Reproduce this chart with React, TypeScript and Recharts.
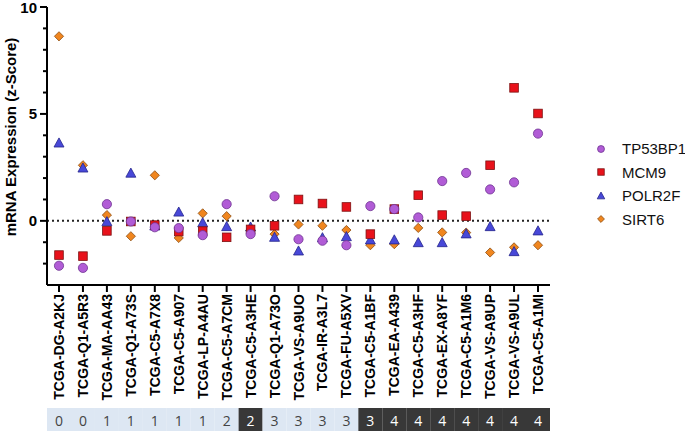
import React from 'react';
import { ComposedChart, Scatter, XAxis, YAxis, ReferenceLine } from 'recharts';

const samples = [
  'TCGA-DG-A2KJ', 'TCGA-Q1-A5R3', 'TCGA-MA-AA43', 'TCGA-Q1-A73S', 'TCGA-C5-A7X8',
  'TCGA-C5-A907', 'TCGA-LP-A4AU', 'TCGA-C5-A7CM', 'TCGA-C5-A3HE', 'TCGA-Q1-A73O',
  'TCGA-VS-A9UO', 'TCGA-IR-A3L7', 'TCGA-FU-A5XV', 'TCGA-C5-A1BF', 'TCGA-EA-A439',
  'TCGA-C5-A3HF', 'TCGA-EX-A8YF', 'TCGA-C5-A1M6', 'TCGA-VS-A9UP', 'TCGA-VS-A9UL',
  'TCGA-C5-A1MI',
];

// number shown in the strip under each sample, and which cells are dark
const stage = [0, 0, 1, 1, 1, 1, 1, 2, 2, 3, 3, 3, 3, 3, 4, 4, 4, 4, 4, 4, 4];
const darkCells = [8, 13, 14, 15, 16, 17, 18, 19, 20];

const tp53bp1 = [-2.1, -2.2, 0.78, -0.03, -0.3, -0.34, -0.67, 0.78, -0.62, 1.15, -0.86, -0.93, -1.14, 0.69, 0.55, 0.16, 1.86, 2.24, 1.47, 1.8, 4.08];
const mcm9 = [-1.6, -1.65, -0.47, -0.03, -0.2, -0.5, -0.48, -0.77, -0.4, -0.23, 1.0, 0.81, 0.65, -0.62, 0.55, 1.2, 0.27, 0.22, 2.6, 6.22, 5.02];
const polr2f = [3.63, 2.46, -0.05, 2.22, -0.25, 0.4, -0.1, -0.28, -0.3, -0.78, -1.42, -0.8, -0.75, -0.9, -0.9, -1.03, -1.03, -0.62, -0.28, -1.45, -0.48];
const sirt6 = [8.63, 2.6, 0.27, -0.72, 2.13, -0.8, 0.35, 0.22, -0.45, -0.62, -0.17, -0.23, -0.43, -1.14, -1.09, -0.33, -0.54, -0.55, -1.48, -1.24, -1.14];

const yTicks = [-3, -2, -1, 0, 1, 2, 3, 4, 5, 6, 7, 8, 9, 10];

const data = samples.map((name, i) => ({
  name,
  tp53bp1: tp53bp1[i],
  mcm9: mcm9[i],
  polr2f: polr2f[i],
  sirt6: sirt6[i],
}));

const FONT = '"Liberation Sans", Arial, sans-serif';

const COLORS = {
  tp53bp1: { fill: '#B15CD6', stroke: '#6e3392' },
  mcm9: { fill: '#E8121B', stroke: '#7d1212' },
  polr2f: { fill: '#4848D8', stroke: '#25258c' },
  sirt6: { fill: '#F0861F', stroke: '#8c4c12' },
};

function marker(kind: string, cx: number, cy: number, s = 1) {
  const c = (COLORS as any)[kind];
  if (kind === 'tp53bp1') {
    return <circle cx={cx} cy={cy} r={4.6 * s} fill={c.fill} stroke={c.stroke} strokeWidth={0.8} />;
  }
  if (kind === 'mcm9') {
    const h = 4.3 * s;
    return <rect x={cx - h} y={cy - h} width={2 * h} height={2 * h} fill={c.fill} stroke={c.stroke} strokeWidth={0.8} />;
  }
  if (kind === 'polr2f') {
    const pts = `${cx},${cy - 5.3 * s} ${cx - 5 * s},${cy + 3.8 * s} ${cx + 5 * s},${cy + 3.8 * s}`;
    return <polygon points={pts} fill={c.fill} stroke={c.stroke} strokeWidth={0.8} />;
  }
  const d = 4.6 * s;
  const pts = `${cx},${cy - d} ${cx + d},${cy} ${cx},${cy + d} ${cx - d},${cy}`;
  return <polygon points={pts} fill={c.fill} stroke={c.stroke} strokeWidth={0.8} />;
}

const shapeFor = (kind: string) => (props: any) => {
  if (props.cx == null || props.cy == null) return <g />;
  return marker(kind, props.cx, props.cy);
};

const YTick = (props: any) => {
  const { x, y, payload } = props;
  const v = payload.value;
  if (v === -3) return <g />;
  const major = v % 5 === 0;
  return (
    <g>
      <line x1={x - (major ? 7 : 4)} x2={x} y1={y} y2={y} stroke="#000" strokeWidth={2} />
      {major && (
        <text x={x - 10} y={y} textAnchor="end" dominantBaseline="central" fontFamily={FONT} fontWeight="bold" fontSize={15} fill="#000">
          {v}
        </text>
      )}
    </g>
  );
};

const XTick = (props: any) => {
  const { x, y, payload } = props;
  return (
    <text
      x={x}
      y={y}
      transform={`rotate(-90 ${x} ${y})`}
      textAnchor="end"
      dominantBaseline="central"
      fontFamily={FONT}
      fontWeight="bold"
      fontSize={14}
      fill="#000"
    >
      {payload.value}
    </text>
  );
};

const StripTick = (props: any) => {
  const { x, y, index } = props;
  const dark = darkCells.includes(index);
  return (
    <g>
      <rect x={x - 12} y={y + 3} width={24} height={23} fill={dark ? '#383838' : '#DDE7F3'} />
      <text
        x={x}
        y={y + 15}
        textAnchor="middle"
        dominantBaseline="central"
        fontFamily='"Open Sans", "Liberation Sans", sans-serif'
        fontSize={14}
        fill={dark ? '#ffffff' : '#444444'}
      >
        {stage[index]}
      </text>
    </g>
  );
};

const YLabel = (props: any) => {
  const vb = props.viewBox || { y: 7, height: 278 };
  const cx = 10;
  const cy = vb.y + vb.height / 2 - 9;
  return (
    <text
      x={cx}
      y={cy}
      transform={`rotate(-90 ${cx} ${cy})`}
      textAnchor="middle"
      dominantBaseline="central"
      fontFamily={FONT}
      fontWeight="bold"
      fontSize={15}
      fill="#000"
    >
      mRNA Expression (z-Score)
    </text>
  );
};

const legendItems = [
  { key: 'tp53bp1', label: 'TP53BP1' },
  { key: 'mcm9', label: 'MCM9' },
  { key: 'polr2f', label: 'POLR2F' },
  { key: 'sirt6', label: 'SIRT6' },
];

export default function App() {
  return (
    <div style={{ position: 'absolute', left: 0, top: 0, width: 685, height: 435, background: '#fff' }}>
      <ComposedChart width={685} height={435} data={data} margin={{ top: 7, right: 135, bottom: 0, left: 7 }}>
        <XAxis
          dataKey="name"
          type="category"
          interval={0}
          height={120}
          padding={{ left: 12, right: 12 }}
          tickSize={7}
          tickMargin={2}
          axisLine={{ stroke: '#000', strokeWidth: 2 }}
          tickLine={{ stroke: '#000', strokeWidth: 2 }}
          tick={<XTick />}
        />
        <XAxis
          xAxisId="strip"
          dataKey="name"
          type="category"
          interval={0}
          height={30}
          padding={{ left: 12, right: 12 }}
          tickSize={0}
          tickMargin={0}
          axisLine={false}
          tickLine={false}
          tick={<StripTick />}
        />
        <YAxis
          type="number"
          domain={[-3, 10]}
          ticks={yTicks}
          interval={0}
          width={40}
          tickSize={0}
          tickMargin={0}
          axisLine={{ stroke: '#000', strokeWidth: 2 }}
          tickLine={false}
          tick={<YTick />}
          label={<YLabel />}
        />
        <ReferenceLine y={0} stroke="#222" strokeWidth={2} strokeDasharray="2 3" />
        <Scatter dataKey="sirt6" shape={shapeFor('sirt6')} isAnimationActive={false} />
        <Scatter dataKey="polr2f" shape={shapeFor('polr2f')} isAnimationActive={false} />
        <Scatter dataKey="mcm9" shape={shapeFor('mcm9')} isAnimationActive={false} />
        <Scatter dataKey="tp53bp1" shape={shapeFor('tp53bp1')} isAnimationActive={false} />
      </ComposedChart>
      <div style={{ position: 'absolute', left: 592, top: 137 }}>
        {legendItems.map((it) => (
          <div key={it.key} style={{ display: 'flex', alignItems: 'center', height: 23.5 }}>
            <svg width={18} height={14}>
              {marker(it.key, 9, 7, 0.75)}
            </svg>
            <span style={{ marginLeft: 12, fontFamily: FONT, fontSize: 15, color: '#111', lineHeight: '23.5px' }}>{it.label}</span>
          </div>
        ))}
      </div>
    </div>
  );
}
